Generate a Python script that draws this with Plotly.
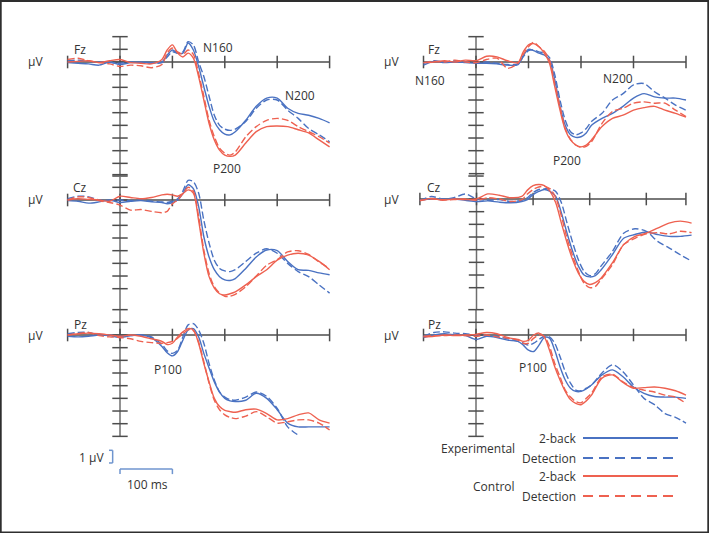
import plotly.graph_objects as go

W, H = 709, 533

# ---------------- data (µV, positive plotted downward) ----------------
t_ms = [-100, -80, -60, -40, -20, 0, 20, 40, 60, 80, 90, 100, 110, 120, 130, 140,
        150, 160, 170, 180, 190, 200, 210, 220, 240, 260, 280, 300, 320, 340, 360, 380, 400]

series_names = ["Experimental 2-back", "Experimental Detection", "Control 2-back", "Control Detection"]

# Left column
fz_l_exp_2back = [0.05, 0.10, 0.15, 0.25, 0.00, 0.20, 0.05, 0.00, 0.05, 0.00, -0.55, -0.95, -0.70, -0.70, -1.50, -0.95,
                  0.35, 1.95, 3.50, 4.70, 5.35, 5.70, 5.75, 5.50, 4.60, 3.50, 2.85, 2.85, 3.65, 4.05, 4.20, 4.45, 4.80]
fz_l_exp_det = [-0.10, -0.15, -0.05, 0.00, 0.05, 0.10, 0.00, 0.05, 0.10, 0.05, -0.40, -0.80, -0.70, -0.80, -1.60, -1.35,
                0.00, 1.15, 2.70, 4.20, 5.00, 5.30, 5.40, 5.30, 4.70, 3.65, 3.00, 3.00, 3.80, 4.45, 5.25, 5.75, 6.30]
fz_l_con_2back = [0.00, -0.05, -0.10, 0.05, -0.10, -0.20, 0.05, 0.10, 0.15, -0.20, -0.95, -1.35, -0.70, -0.40, -0.70, -0.30,
                  1.15, 3.00, 4.85, 6.15, 6.95, 7.35, 7.45, 7.35, 6.40, 5.50, 5.10, 5.05, 5.10, 5.35, 5.60, 6.15, 6.70]
fz_l_con_det = [-0.20, -0.30, -0.10, 0.05, 0.15, 0.35, 0.25, 0.30, 0.45, 0.20, -0.70, -1.10, -0.80, -0.60, -0.95, -0.60,
                0.90, 2.70, 4.60, 5.90, 6.80, 7.20, 7.35, 7.10, 5.90, 5.10, 4.60, 4.45, 4.60, 5.10, 5.50, 5.90, 6.40]

cz_l_exp_2back = [0.05, 0.10, 0.25, 0.15, 0.00, 0.20, 0.10, 0.05, 0.15, 0.20, 0.30, 0.20, 0.00, -0.50, -1.20, -0.90,
                  0.50, 2.90, 4.50, 5.50, 6.05, 6.30, 6.35, 6.20, 5.40, 4.50, 3.95, 4.00, 4.85, 5.50, 5.55, 5.75, 5.90]
cz_l_exp_det = [-0.10, -0.30, -0.25, 0.00, 0.05, 0.00, 0.05, 0.00, 0.10, 0.15, 0.20, 0.10, -0.10, -0.70, -1.55, -1.45,
                -0.55, 1.60, 3.40, 4.75, 5.40, 5.60, 5.65, 5.50, 4.85, 4.20, 3.85, 4.20, 5.00, 5.65, 6.05, 6.70, 7.35]
cz_l_con_2back = [0.00, -0.10, -0.05, 0.00, 0.10, -0.30, -0.20, -0.10, -0.20, -0.40, -0.45, -0.40, -0.30, -0.50, -0.80, -0.55,
                  1.60, 4.20, 6.05, 6.95, 7.40, 7.50, 7.40, 7.25, 6.70, 6.05, 5.50, 4.75, 4.35, 4.20, 4.35, 4.85, 5.50]
cz_l_con_det = [0.00, -0.25, -0.20, 0.05, 0.20, 0.40, 0.80, 0.75, 0.90, 1.00, 0.90, 0.30, 0.00, -0.50, -1.00, -0.70,
                1.30, 3.95, 5.80, 6.85, 7.35, 7.60, 7.60, 7.45, 6.85, 6.00, 5.15, 4.70, 4.10, 4.00, 4.30, 4.90, 5.40]

pz_l_exp_2back = [0.10, 0.15, 0.10, 0.00, 0.05, 0.20, 0.05, 0.00, 0.20, 0.90, 1.40, 1.65, 1.30, 0.40, -0.40, -0.50,
                  0.15, 1.45, 2.60, 3.70, 4.50, 5.00, 5.20, 5.25, 5.15, 4.60, 5.00, 5.90, 6.95, 7.25, 7.25, 7.25, 7.25]
pz_l_exp_det = [-0.10, -0.20, -0.20, 0.00, 0.00, 0.10, 0.05, 0.00, 0.15, 0.75, 1.25, 1.45, 1.20, 0.15, -0.80, -0.90,
                -0.40, 0.65, 2.25, 3.55, 4.50, 4.90, 5.10, 5.15, 4.90, 4.50, 4.85, 5.80, 7.25, 7.90, None, None, None]
pz_l_con_2back = [0.00, -0.10, -0.15, -0.10, 0.00, 0.10, 0.00, 0.10, 0.30, 0.50, 0.75, 0.65, 0.15, -0.25, -0.50, -0.40,
                  0.65, 2.25, 3.70, 5.00, 5.65, 5.95, 6.05, 6.10, 5.90, 5.85, 6.20, 6.70, 6.60, 6.30, 6.15, 6.70, 6.95]
pz_l_con_det = [0.00, -0.10, -0.20, 0.05, 0.15, 0.20, 0.30, 0.50, 0.60, 0.65, 0.60, 0.50, 0.25, -0.10, -0.40, -0.35,
                0.55, 2.10, 3.80, 5.15, 5.90, 6.30, 6.50, 6.60, 6.40, 6.05, 6.45, 6.95, 6.85, 6.70, 6.70, 6.95, 7.50]

# Right column
fz_r_exp_2back = [0.25, -0.05, 0.05, 0.00, 0.05, 0.10, 0.10, 0.15, 0.25, 0.20, -0.50, -1.00, -0.90, -0.70, -0.55, -0.15,
                  1.40, 3.50, 5.00, 5.75, 5.95, 5.90, 5.60, 5.00, 4.45, 4.05, 3.50, 2.85, 2.50, 2.75, 2.85, 2.85, 3.00]
fz_r_exp_det = [0.10, -0.10, 0.00, -0.10, 0.00, 0.05, 0.00, 0.10, 0.20, 0.15, -0.40, -0.90, -0.95, -0.80, -0.70, -0.35,
                1.00, 3.00, 4.60, 5.50, 5.75, 5.60, 5.25, 4.70, 4.05, 3.00, 2.50, 1.80, 1.70, 2.35, 2.85, 3.40, 3.80]
fz_r_con_2back = [0.05, 0.00, -0.10, 0.00, -0.15, -0.10, -0.45, -0.40, -0.10, 0.05, -0.80, -1.35, -1.45, -1.20, -0.70, 0.10,
                  1.95, 3.80, 5.35, 6.15, 6.55, 6.70, 6.55, 6.15, 5.10, 4.45, 4.20, 3.80, 3.60, 3.50, 3.80, 4.05, 4.35]
fz_r_con_det = [0.05, -0.05, 0.00, -0.15, 0.00, 0.05, -0.20, -0.30, 0.50, 0.10, -0.60, -1.20, -1.55, -1.20, -0.85, -0.15,
                1.70, 3.50, 5.25, 6.10, 6.55, 6.75, 6.65, 6.30, 4.85, 3.90, 3.65, 3.25, 3.15, 3.25, 3.25, 3.80, 4.30]

cz_r_exp_2back = [0.10, 0.00, 0.05, 0.00, 0.10, 0.20, 0.15, 0.25, 0.30, 0.20, 0.05, -0.35, -0.60, -0.75, -0.60, -0.20,
                  1.10, 2.70, 4.15, 5.30, 6.00, 6.15, 6.05, 5.60, 4.40, 3.10, 2.80, 2.60, 2.80, 2.95, 2.95, 2.85, None]
cz_r_exp_det = [0.15, -0.20, 0.00, -0.10, -0.40, 0.00, 0.10, 0.05, 0.20, 0.10, -0.10, -0.50, -0.75, -0.80, -0.80, -0.60,
                0.30, 1.90, 3.45, 4.80, 5.70, 6.05, 5.90, 5.30, 4.15, 2.70, 2.35, 2.55, 3.35, 3.85, 4.40, 4.90, None]
cz_r_con_2back = [0.15, -0.05, 0.10, 0.00, 0.05, 0.00, -0.40, -0.30, -0.10, -0.20, -0.70, -1.05, -1.15, -1.05, -0.60, 0.30,
                  1.90, 3.45, 4.80, 5.85, 6.50, 6.75, 6.60, 6.25, 5.05, 3.60, 2.95, 2.70, 2.30, 1.90, 1.75, 1.90, None]
cz_r_con_det = [0.10, 0.00, 0.05, 0.05, 0.00, 0.10, -0.10, 0.00, 0.20, 0.05, -0.40, -0.75, -0.95, -1.00, -0.80, -0.10,
                1.35, 3.10, 4.50, 5.70, 6.65, 7.00, 6.90, 6.35, 5.20, 3.60, 3.10, 2.75, 2.65, 2.75, 2.55, 2.65, None]

pz_r_exp_2back = [0.20, 0.00, -0.10, 0.00, 0.05, 0.35, 0.10, 0.20, 0.40, 0.50, 0.80, 1.20, 1.30, 0.80, 0.20, 0.25,
                  1.20, 2.50, 3.55, 4.20, 4.45, 4.45, 4.25, 3.95, 3.15, 2.75, 3.30, 4.10, 4.60, 4.85, 4.90, 4.90, 5.00]
pz_r_exp_det = [0.10, -0.20, -0.25, -0.15, -0.10, 0.00, 0.05, 0.10, 0.30, 0.50, 0.65, 0.80, 0.65, 0.35, 0.10, 0.15,
                0.65, 1.70, 2.90, 3.80, 4.35, 4.40, 4.20, 3.95, 3.00, 2.35, 2.90, 3.95, 5.00, 5.50, 6.20, 6.50, 6.95]
pz_r_con_2back = [0.15, 0.10, 0.00, 0.05, 0.00, -0.05, -0.20, -0.10, 0.20, 0.35, 0.50, 0.40, 0.00, -0.15, 0.15, 1.20,
                  2.50, 3.55, 4.45, 5.10, 5.40, 5.50, 5.20, 4.75, 3.40, 3.15, 3.75, 4.20, 4.15, 4.10, 4.20, 4.40, 4.75]
pz_r_con_det = [0.10, 0.05, 0.05, 0.00, 0.05, 0.10, 0.00, 0.15, 0.25, 0.40, 0.65, 0.65, 0.25, 0.00, 0.10, 0.90,
                2.25, 3.30, 4.35, 4.90, 5.25, 5.35, 5.00, 4.60, 3.30, 3.10, 3.70, 4.15, 4.35, 4.50, 4.75, 4.90, 5.40]

time_ticks = [-100, 0, 100, 200, 300, 400]

# ---------------- styles / layout config ----------------
BLUE = "#4a72c2"
RED = "#ee6150"
AXC = "#4d4d4d"
TXT = "#333333"
FONT = "Open Sans"
styles = [(BLUE, "solid"), (BLUE, "7px,3px"), (RED, "solid"), (RED, "7px,3px")]

# x0: pixel of t=0 ; sx: px per ms ; b: baseline pixel ; dom: pixel domain
SY = 12.67
panels = [
    dict(name="Fz", data=[fz_l_exp_2back, fz_l_exp_det, fz_l_con_2back, fz_l_con_det],
         x0=120, sx=0.524, b=62, xd=(40, 350), yd=(22, 185), vbot=9, xend=400),
    dict(name="Cz", data=[cz_l_exp_2back, cz_l_exp_det, cz_l_con_2back, cz_l_con_det],
         x0=120, sx=0.524, b=200, xd=(40, 350), yd=(160, 320), vbot=8.68, vt=7, xend=400),
    dict(name="Pz", data=[pz_l_exp_2back, pz_l_exp_det, pz_l_con_2back, pz_l_con_det],
         x0=120, sx=0.524, b=335, xd=(40, 350), yd=(295, 500), vbot=8, xend=400),
    dict(name="Fz", data=[fz_r_exp_2back, fz_r_exp_det, fz_r_con_2back, fz_r_con_det],
         x0=476, sx=0.525, b=62, xd=(400, 705), yd=(22, 185), vbot=9, xend=400),
    dict(name="Cz", data=[cz_r_exp_2back, cz_r_exp_det, cz_r_con_2back, cz_r_con_det],
         x0=476.5, sx=0.566, b=199, xd=(400, 705), yd=(160, 320), vbot=8.76, vt=7, xend=370),
    dict(name="Pz", data=[pz_r_exp_2back, pz_r_exp_det, pz_r_con_2back, pz_r_con_det],
         x0=476, sx=0.525, b=335, xd=(400, 705), yd=(295, 445), vbot=8, xend=400),
]

fig = go.Figure()
layout_axes = {}

for i, p in enumerate(panels, start=1):
    xa = "x" if i == 1 else f"x{i}"
    ya = "y" if i == 1 else f"y{i}"
    xr = [(p["xd"][0] - p["x0"]) / p["sx"], (p["xd"][1] - p["x0"]) / p["sx"]]
    yr = [(p["yd"][1] - p["b"]) / SY, (p["yd"][0] - p["b"]) / SY]
    layout_axes["xaxis" if i == 1 else f"xaxis{i}"] = dict(
        domain=[p["xd"][0] / W, p["xd"][1] / W], range=xr, visible=False, anchor=ya, fixedrange=True)
    layout_axes["yaxis" if i == 1 else f"yaxis{i}"] = dict(
        domain=[1 - p["yd"][1] / H, 1 - p["yd"][0] / H], range=yr, visible=False, anchor=xa, fixedrange=True)

    # vertical (µV) axis
    vt = int(p.get("vt", int(p["vbot"])))
    vticks = list(range(-2, vt + 1))
    fig.add_trace(go.Scatter(x=[0, 0], y=[-2, p["vbot"]], mode="lines", xaxis=xa, yaxis=ya,
                             line=dict(color="#6e6e6e", width=1.5), hoverinfo="skip", showlegend=False))
    fig.add_trace(go.Scatter(x=[0] * len(vticks), y=vticks, mode="markers", xaxis=xa, yaxis=ya,
                             marker=dict(symbol="line-ew", size=11, line=dict(color=AXC, width=1.5)),
                             hoverinfo="skip", showlegend=False))
    # horizontal (time) axis
    hticks = [tk for tk in time_ticks if tk <= p["xend"]]
    if p["xend"] not in hticks:
        hticks.append(p["xend"])
    fig.add_trace(go.Scatter(x=[-100, p["xend"]], y=[0, 0], mode="lines", xaxis=xa, yaxis=ya,
                             line=dict(color=AXC, width=1.5), hoverinfo="skip", showlegend=False))
    fig.add_trace(go.Scatter(x=hticks, y=[0] * len(hticks), mode="markers", xaxis=xa, yaxis=ya,
                             marker=dict(symbol="line-ns", size=9, line=dict(color=AXC, width=1.5)),
                             hoverinfo="skip", showlegend=False))
    # ERP curves
    for k, (vals, (col, dash)) in enumerate(zip(p["data"], styles)):
        fig.add_trace(go.Scatter(x=t_ms, y=vals, mode="lines", xaxis=xa, yaxis=ya,
                                 name=series_names[k], connectgaps=False,
                                 line=dict(color=col, width=1.4, dash=dash, shape="spline", smoothing=0.8),
                                 showlegend=False))


def px(xp, yp):
    return xp / W, 1 - yp / H


annots = []


def add_text(text, xp, yp, xanchor="center", size=12):
    xx, yy = px(xp, yp)
    annots.append(dict(text=text, x=xx, y=yy, xref="paper", yref="paper", xanchor=xanchor,
                       yanchor="middle", showarrow=False, font=dict(family=FONT, size=size, color=TXT)))


# µV labels
for (xp, yp) in [(35, 62), (35, 200), (35, 335), (391, 62), (391, 199), (391, 335)]:
    add_text("µV", xp, yp)
# electrode names
for (txt, xp, yp) in [("Fz", 80, 49), ("Cz", 80, 187), ("Pz", 80, 324),
                      ("Fz", 434, 49), ("Cz", 434, 187), ("Pz", 434, 324)]:
    add_text(txt, xp, yp)
# component labels
for (txt, xp, yp) in [("N160", 218, 47), ("N200", 300, 95), ("P200", 227, 168),
                      ("N160", 430, 80), ("N200", 618, 79), ("P200", 567, 160),
                      ("P100", 168, 369), ("P100", 533, 367)]:
    add_text(txt, xp, yp)

# scale bars (Pz-left axes, data units)
shapes = []
sx3, sy3 = "x3", "y3"
bar_col = "#6f95cf"
shapes += [
    dict(type="line", xref=sx3, yref=sy3, x0=0, x1=100, y0=10.58, y1=10.58, line=dict(color=bar_col, width=1.5)),
    dict(type="line", xref=sx3, yref=sy3, x0=0, x1=0, y0=10.58, y1=10.98, line=dict(color=bar_col, width=1.5)),
    dict(type="line", xref=sx3, yref=sy3, x0=100, x1=100, y0=10.58, y1=10.98, line=dict(color=bar_col, width=1.5)),
    dict(type="line", xref=sx3, yref=sy3, x0=-14, x1=-14, y0=9.1, y1=10.1, line=dict(color=bar_col, width=1.5)),
    dict(type="line", xref=sx3, yref=sy3, x0=-21, x1=-14, y0=9.1, y1=9.1, line=dict(color=bar_col, width=1.5)),
    dict(type="line", xref=sx3, yref=sy3, x0=-21, x1=-14, y0=10.1, y1=10.1, line=dict(color=bar_col, width=1.5)),
]
add_text("1 µV", 106, 457, xanchor="right")
add_text("100 ms", 147, 484)

# custom legend
leg_rows = [(438, "2-back"), (458, "Detection"), (476, "2-back"), (496, "Detection")]
for (yp, lab), (col, dash) in zip(leg_rows, styles):
    x0, y0 = px(583, yp)
    x1, _ = px(678, yp)
    shapes.append(dict(type="line", xref="paper", yref="paper", x0=x0, x1=x1, y0=y0, y1=y0,
                       line=dict(color=col, width=2, dash=dash.replace("7px,3px", "10px,6px"))))
    add_text(lab, 578, yp, xanchor="right")
add_text("Experimental", 517, 448, xanchor="right")
add_text("Control", 517, 486, xanchor="right")

# frame
shapes.append(dict(type="rect", xref="paper", yref="paper", x0=0.001, y0=0.001, x1=0.999, y1=0.998,
                   line=dict(color="#2e2e2e", width=2)))

fig.update_layout(
    width=W, height=H, margin=dict(l=0, r=0, t=0, b=0),
    paper_bgcolor="white", plot_bgcolor="rgba(0,0,0,0)",
    showlegend=False, annotations=annots, shapes=shapes, hovermode=False,
    font=dict(family=FONT, color=TXT),
    **layout_axes,
)

fig.write_html("out.html", config={"displayModeBar": False, "staticPlot": True},
               post_script="document.body.style.margin='0';document.body.style.overflow='hidden';")
